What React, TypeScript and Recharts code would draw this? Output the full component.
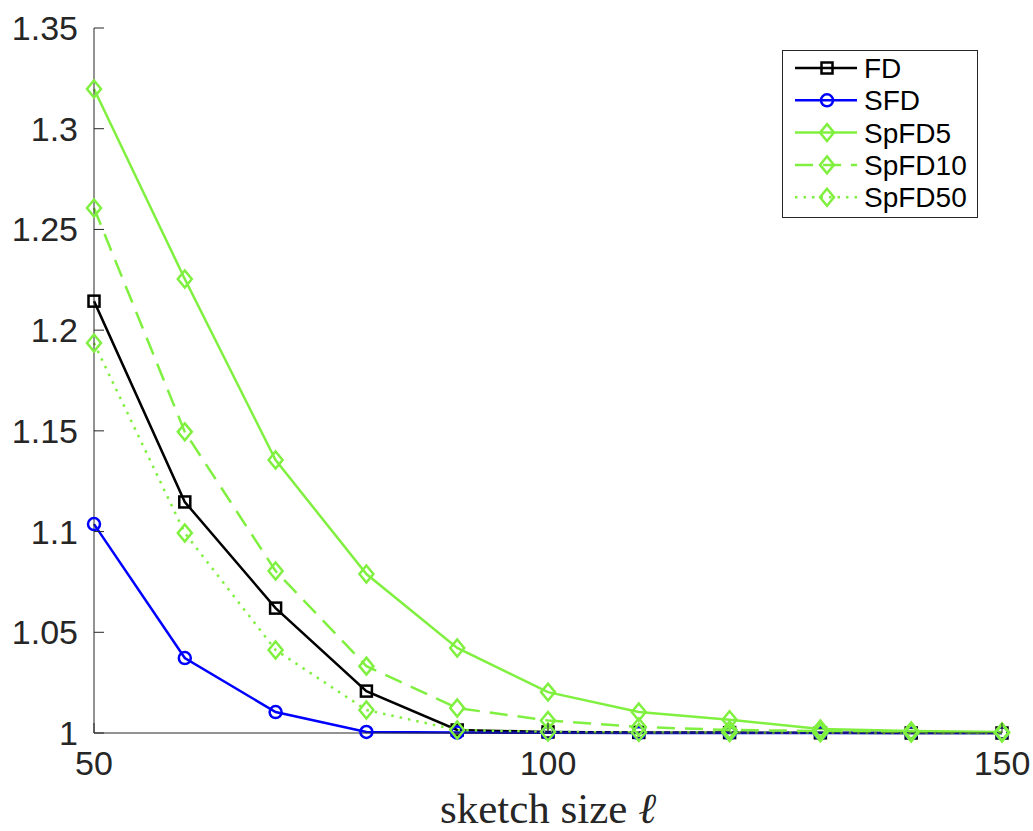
import { LineChart, Line, XAxis, YAxis, Legend } from "recharts"

const sizes = [50, 60, 70, 80, 90, 100, 110, 120, 130, 140, 150]
const fd = [1.2144, 1.1147, 1.062, 1.0208, 1.0015, 1.0005, 1.0003, 1.0002, 1.0001, 1.0, 1.0]
const sfd = [1.1037, 1.0372, 1.0104, 1.0005, 1.0002, 1.0001, 1.0, 1.0, 1.0, 1.0, 1.0]
const spfd5 = [1.3197, 1.2254, 1.1355, 1.0789, 1.0422, 1.0203, 1.0104, 1.0066, 1.002, 1.001, 1.0005]
const spfd10 = [1.2606, 1.1495, 1.0804, 1.0332, 1.0124, 1.0062, 1.003, 1.0015, 1.001, 1.0005, 1.0003]
const spfd50 = [1.1936, 1.0993, 1.0412, 1.0114, 1.0015, 1.0005, 1.0003, 1.0002, 1.0001, 1.0, 1.0]

const xTicks = [50, 100, 150]
const yTicks = [1, 1.05, 1.1, 1.15, 1.2, 1.25, 1.3, 1.35]

const data = sizes.map((s, i) => ({
  size: s,
  FD: fd[i],
  SFD: sfd[i],
  SpFD5: spfd5[i],
  SpFD10: spfd10[i],
  SpFD50: spfd50[i],
}))

const GREEN = "#80f040"
const AXIS = "#262626"
const SANS = "Liberation Sans, Arial, sans-serif"
const LW = 2.5

type Shape = "square" | "circle" | "diamond"

const series: { key: string; color: string; shape: Shape; dash?: string }[] = [
  { key: "FD", color: "#000000", shape: "square" },
  { key: "SFD", color: "#0000ff", shape: "circle" },
  { key: "SpFD5", color: GREEN, shape: "diamond" },
  { key: "SpFD10", color: GREEN, shape: "diamond", dash: "18 10" },
  { key: "SpFD50", color: GREEN, shape: "diamond", dash: "2.5 6" },
]

function Marker({ cx, cy, shape, color }: { cx: number; cy: number; shape: Shape; color: string }) {
  if (shape === "square") {
    return <rect x={cx - 5.5} y={cy - 5.5} width={11} height={11} fill="none" stroke={color} strokeWidth={LW} />
  }
  if (shape === "circle") {
    return <circle cx={cx} cy={cy} r={6} fill="none" stroke={color} strokeWidth={LW} />
  }
  return (
    <polygon
      points={`${cx},${cy - 8.5} ${cx + 7},${cy} ${cx},${cy + 8.5} ${cx - 7},${cy}`}
      fill="none"
      stroke={color}
      strokeWidth={LW}
    />
  )
}

const fmt = (v: number) => String(Number(v.toFixed(2)))

function BottomTick(props: any) {
  const { x, y, payload } = props
  return (
    <g>
      <line x1={x} y1={y} x2={x} y2={y - 10} stroke={AXIS} strokeWidth={1} />
      <text x={x} y={y + 42} textAnchor="middle" fontSize={34} fontFamily={SANS} fill={AXIS}>
        {payload.value}
      </text>
    </g>
  )
}

function TopTick(props: any) {
  const { x, y } = props
  return <line x1={x} y1={y} x2={x} y2={y + 10} stroke={AXIS} strokeWidth={1} />
}

function LeftTick(props: any) {
  const { x, y, payload } = props
  return (
    <g>
      <line x1={x} y1={y} x2={x + 10} y2={y} stroke={AXIS} strokeWidth={1} />
      <text x={x - 16} y={y + 12} textAnchor="end" fontSize={34} fontFamily={SANS} fill={AXIS}>
        {fmt(payload.value)}
      </text>
    </g>
  )
}

function RightTick(props: any) {
  const { x, y } = props
  return <line x1={x} y1={y} x2={x - 10} y2={y} stroke={AXIS} strokeWidth={1} />
}

function LegendBox() {
  return (
    <svg width={196} height={168}>
      <rect x={0.5} y={0.5} width={195} height={167} fill="#fff" stroke={AXIS} strokeWidth={1} />
      {series.map((s, i) => {
        const cy = 18 + i * 32.3
        return (
          <g key={s.key}>
            <line x1={13} y1={cy} x2={75} y2={cy} stroke={s.color} strokeWidth={LW} strokeDasharray={s.dash} />
            <Marker cx={45} cy={cy} shape={s.shape} color={s.color} />
            <text x={82} y={cy + 10} fontSize={28} fontFamily={SANS} fill="#000">
              {s.key}
            </text>
          </g>
        )
      })}
    </svg>
  )
}

export default function App() {
  return (
    <div style={{ position: "absolute", left: 0, top: 0, width: 1033, height: 831, background: "#fff" }}>
      <LineChart width={1033} height={831} data={data} margin={{ top: 28, right: 31, left: 0, bottom: 0 }}>
        <XAxis
          dataKey="size"
          type="number"
          domain={[50, 150]}
          ticks={xTicks}
          height={98}
          tickSize={0}
          tickMargin={0}
          tickLine={false}
          tick={BottomTick}
          axisLine={{ stroke: AXIS, strokeWidth: 1 }}
          label={({ viewBox }: any) => (
            <text
              x={viewBox.x + viewBox.width / 2}
              y={viewBox.y + 90}
              textAnchor="middle"
              fontSize={43}
              fontFamily="Liberation Serif, Times New Roman, serif"
              fill={AXIS}
            >
              sketch size <tspan fontStyle="italic">ℓ</tspan>
            </text>
          )}
        />
        <XAxis
          xAxisId="top"
          orientation="top"
          dataKey="size"
          type="number"
          domain={[50, 150]}
          ticks={xTicks}
          height={0}
          tickSize={0}
          tickMargin={0}
          tickLine={false}
          tick={TopTick}
          axisLine={{ stroke: AXIS, strokeWidth: 1 }}
        />
        <YAxis
          type="number"
          domain={[1, 1.35]}
          ticks={yTicks}
          width={94}
          tickSize={0}
          tickMargin={0}
          tickLine={false}
          tick={LeftTick}
          axisLine={{ stroke: AXIS, strokeWidth: 1 }}
        />
        <YAxis
          yAxisId="right"
          orientation="right"
          type="number"
          domain={[1, 1.35]}
          ticks={yTicks}
          width={0}
          tickSize={0}
          tickMargin={0}
          tickLine={false}
          tick={RightTick}
          axisLine={{ stroke: AXIS, strokeWidth: 1 }}
        />
        {series.map((s) => (
          <Line
            key={s.key}
            dataKey={s.key}
            stroke={s.color}
            strokeWidth={LW}
            strokeDasharray={s.dash}
            isAnimationActive={false}
            activeDot={false}
            dot={(p: any) => <Marker key={`${s.key}-${p.index}`} cx={p.cx} cy={p.cy} shape={s.shape} color={s.color} />}
          />
        ))}
        <Legend
          layout="horizontal"
          verticalAlign="middle"
          align="center"
          content={() => <LegendBox />}
          wrapperStyle={{ left: 782, top: 50, width: 196, height: 168 }}
        />
      </LineChart>
    </div>
  )
}
